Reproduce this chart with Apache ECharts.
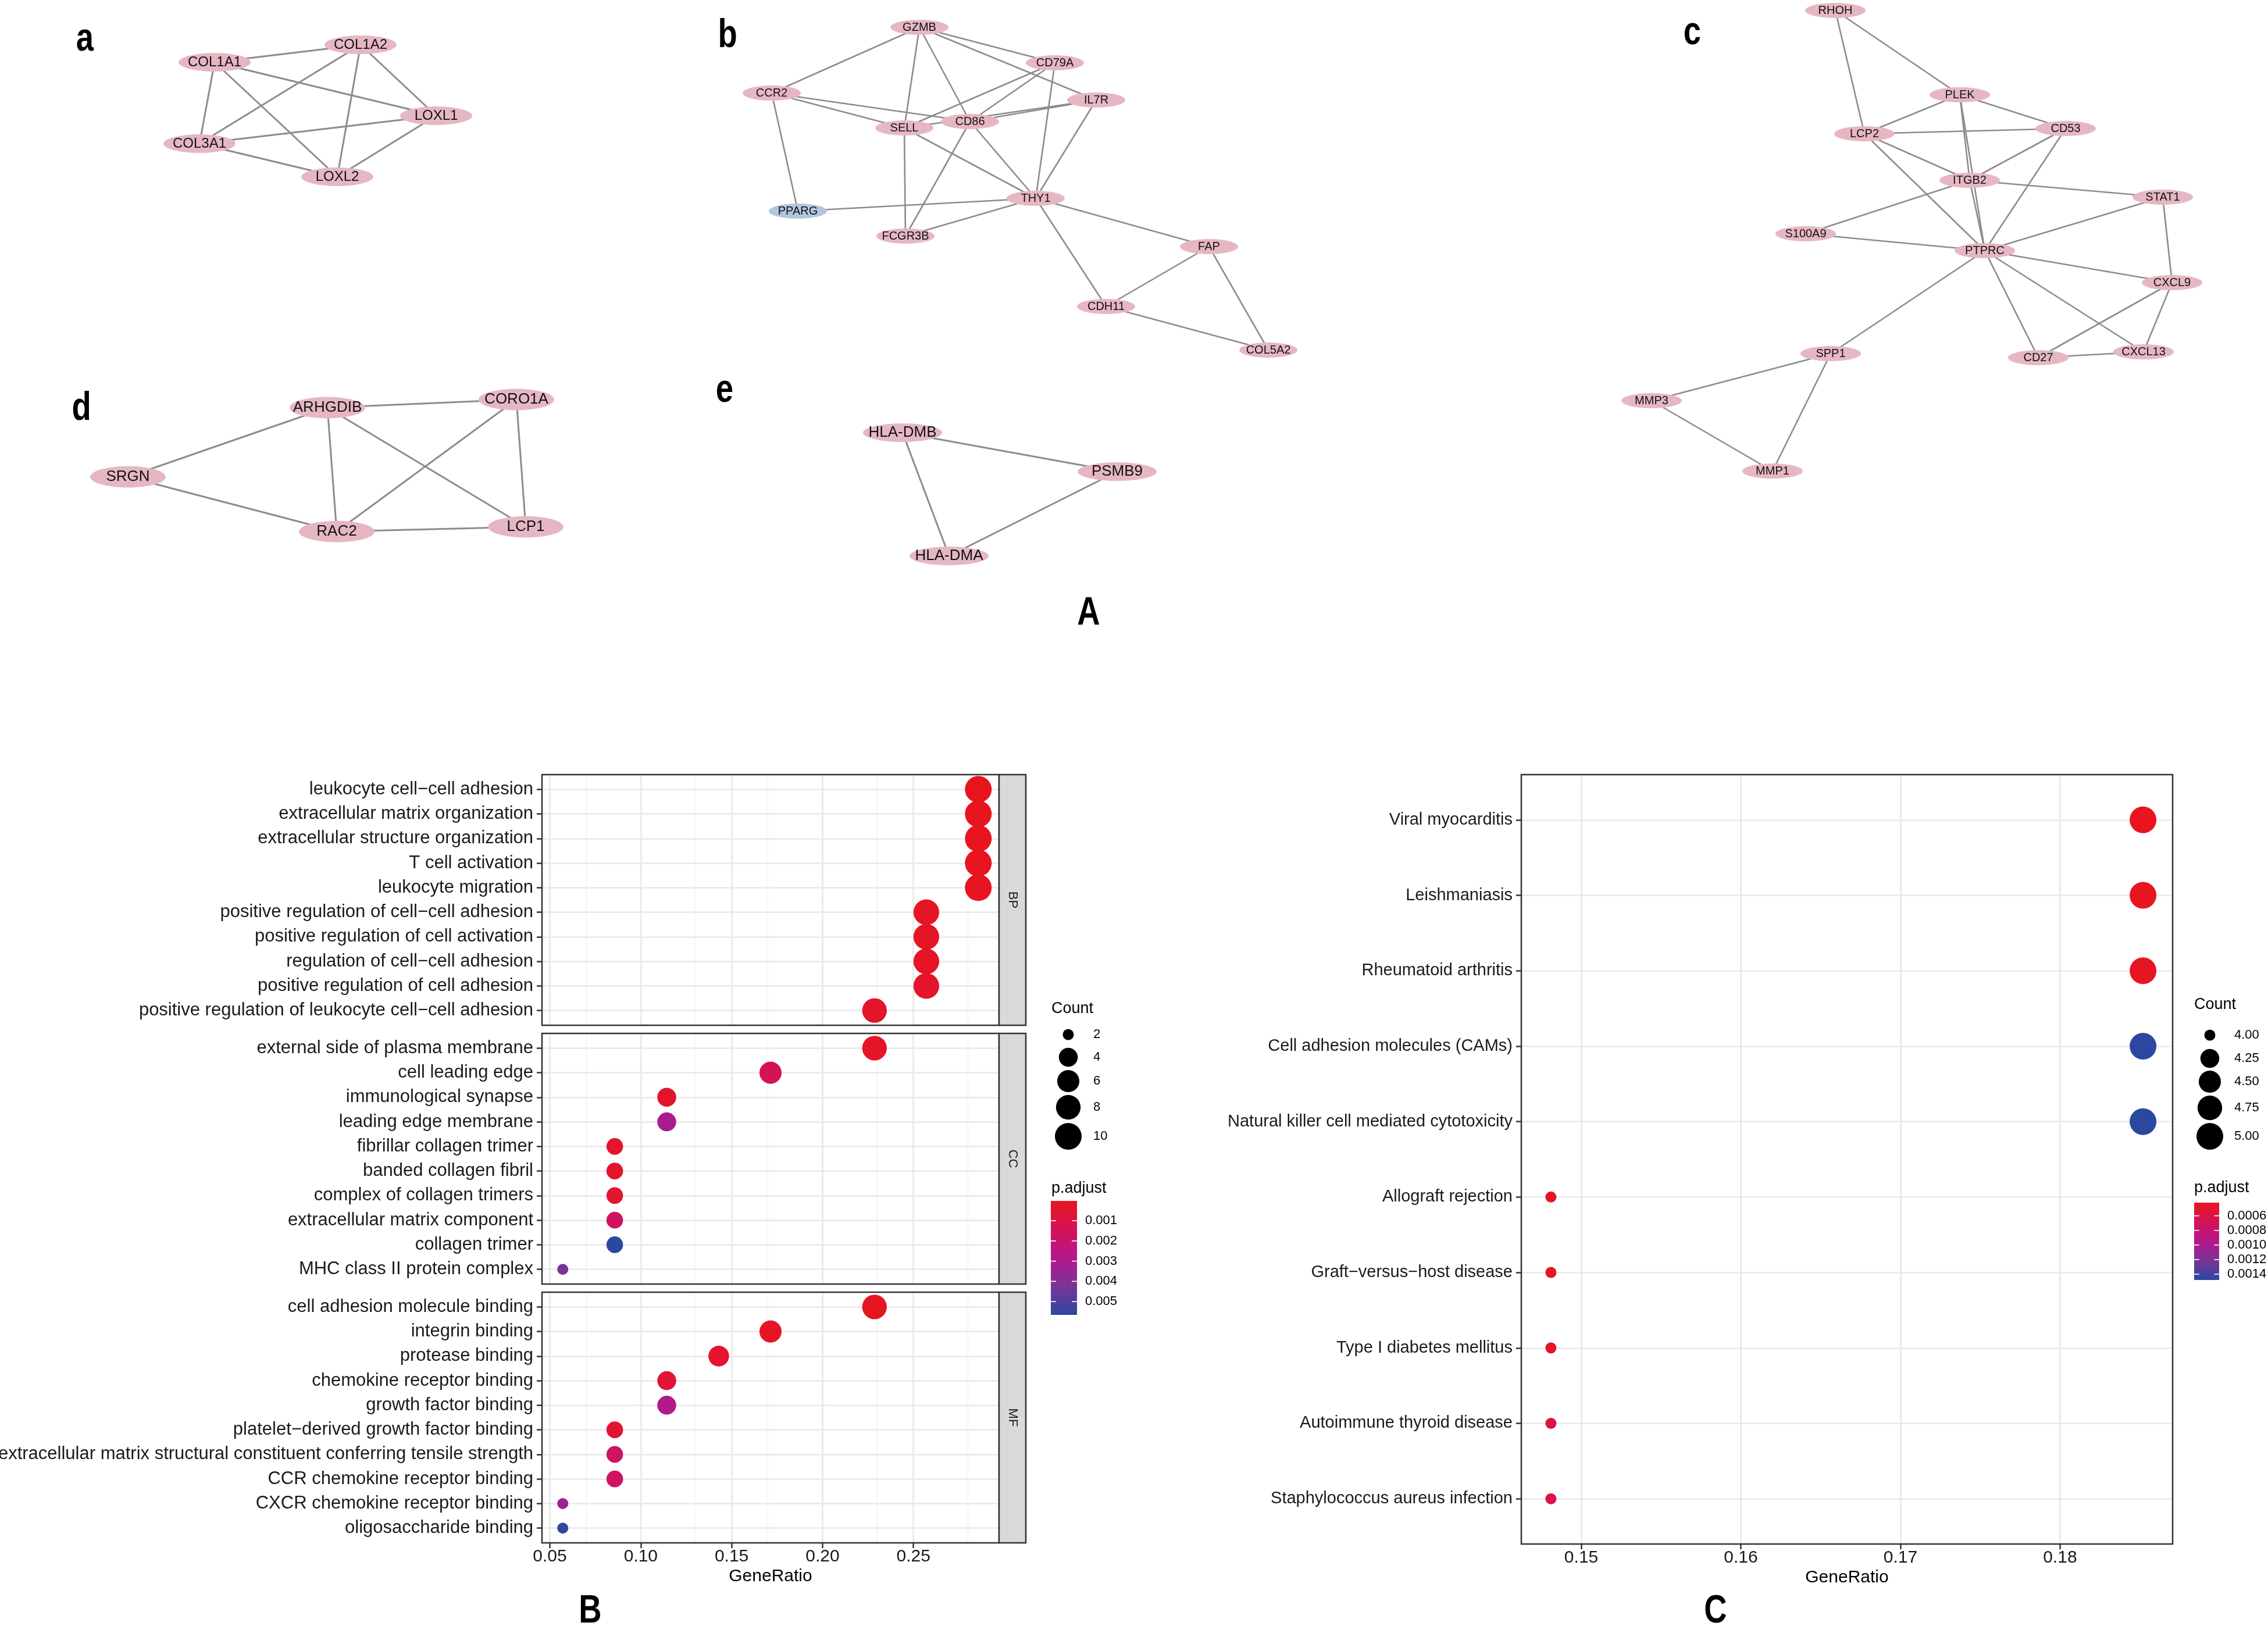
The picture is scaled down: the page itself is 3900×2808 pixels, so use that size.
<!DOCTYPE html>
<html>
<head>
<meta charset="utf-8">
<script src="https://cdn.jsdelivr.net/npm/echarts@6/dist/echarts.min.js"></script>
<style>html,body{margin:0;padding:0;background:#fff}#main{width:3900px;height:2808px}</style>
</head>
<body>
<div id="main"></div>
<script>
// ================= DATA =================
// Panel A: PPI sub-networks (node name, layout x, layout y)
const netA_nodes = [['COL1A1',369,107],['COL1A2',620,77],['LOXL1',750,199],['COL3A1',343,247],['LOXL2',580,304]];
const netA_edges = [['COL1A1','COL1A2'],['COL1A1','COL3A1'],['COL1A1','LOXL2'],['COL1A1','LOXL1'],['COL1A2','COL3A1'],['COL1A2','LOXL2'],['COL1A2','LOXL1'],['COL3A1','LOXL1'],['COL3A1','LOXL2'],['LOXL1','LOXL2']];

const netB_nodes = [['GZMB',1581,47],['CD79A',1814,108],['CCR2',1327,160],['IL7R',1885,172],['SELL',1555,220],['CD86',1668,209],['THY1',1781,341],['PPARG',1372,363],['FCGR3B',1557,406],['FAP',2079,424],['CDH11',1902,527],['COL5A2',2181,602]];
const netB_edges = [['GZMB','CCR2'],['GZMB','SELL'],['GZMB','CD86'],['GZMB','CD79A'],['GZMB','IL7R'],['CD79A','SELL'],['CD79A','CD86'],['CD79A','THY1'],['CCR2','SELL'],['CCR2','CD86'],['CCR2','PPARG'],['IL7R','SELL'],['IL7R','CD86'],['IL7R','THY1'],['SELL','THY1'],['SELL','FCGR3B'],['CD86','THY1'],['CD86','FCGR3B'],['THY1','PPARG'],['THY1','FCGR3B'],['THY1','FAP'],['THY1','CDH11'],['FAP','CDH11'],['FAP','COL5A2'],['CDH11','COL5A2']];

const netC_nodes = [['RHOH',3156,18],['PLEK',3370,163],['LCP2',3206,230],['CD53',3552,221],['ITGB2',3387,310],['STAT1',3719,339],['S100A9',3105,402],['PTPRC',3413,431],['CXCL9',3735,486],['CD27',3505,615],['CXCL13',3686,605],['SPP1',3148,608],['MMP3',2840,689],['MMP1',3048,810]];
const netC_edges = [['RHOH','LCP2'],['RHOH','PLEK'],['PLEK','LCP2'],['PLEK','CD53'],['PLEK','ITGB2'],['PLEK','PTPRC'],['ITGB2','PTPRC'],['LCP2','CD53'],['LCP2','ITGB2'],['LCP2','PTPRC'],['CD53','ITGB2'],['CD53','PTPRC'],['ITGB2','STAT1'],['ITGB2','S100A9'],['S100A9','PTPRC'],['STAT1','PTPRC'],['STAT1','CXCL9'],['PTPRC','CXCL9'],['PTPRC','CD27'],['PTPRC','CXCL13'],['PTPRC','SPP1'],['CXCL9','CD27'],['CXCL9','CXCL13'],['CD27','CXCL13'],['SPP1','MMP3'],['SPP1','MMP1'],['MMP3','MMP1']];

const netD_nodes = [['ARHGDIB',563,701],['CORO1A',888,687],['SRGN',220,820],['RAC2',579,914],['LCP1',904,906]];
const netD_edges = [['ARHGDIB','CORO1A'],['ARHGDIB','SRGN'],['ARHGDIB','RAC2'],['ARHGDIB','LCP1'],['CORO1A','RAC2'],['CORO1A','LCP1'],['SRGN','RAC2'],['RAC2','LCP1']];

const netE_nodes = [['HLA-DMB',1552,744],['PSMB9',1921,811],['HLA-DMA',1632,956]];
const netE_edges = [['HLA-DMB','PSMB9'],['HLA-DMB','HLA-DMA'],['PSMB9','HLA-DMA']];

const downRegulated = ['PPARG'];

// Panel B: GO enrichment (BP / CC / MF)
const bpTerms = ['leukocyte cell\u2212cell adhesion','extracellular matrix organization','extracellular structure organization','T cell activation','leukocyte migration','positive regulation of cell\u2212cell adhesion','positive regulation of cell activation','regulation of cell\u2212cell adhesion','positive regulation of cell adhesion','positive regulation of leukocyte cell\u2212cell adhesion'];
const bpRatio = [0.2857,0.2857,0.2857,0.2857,0.2857,0.2571,0.2571,0.2571,0.2571,0.2286];
const bpCount = [10,10,10,10,10,9,9,9,9,8];
const bpPadj  = [0.00002,0.00003,0.00003,0.00005,0.0001,0.0002,0.0002,0.0002,0.0003,0.0003];

const ccTerms = ['external side of plasma membrane','cell leading edge','immunological synapse','leading edge membrane','fibrillar collagen trimer','banded collagen fibril','complex of collagen trimers','extracellular matrix component','collagen trimer','MHC class II protein complex'];
const ccRatio = [0.2286,0.1714,0.1143,0.1143,0.0857,0.0857,0.0857,0.0857,0.0857,0.0571];
const ccCount = [8,6,4,4,3,3,3,3,3,2];
const ccPadj  = [0.0002,0.0014,0.0004,0.0031,0.0003,0.0003,0.0004,0.0016,0.00566,0.0043];

const mfTerms = ['cell adhesion molecule binding','integrin binding','protease binding','chemokine receptor binding','growth factor binding','platelet\u2212derived growth factor binding','extracellular matrix structural constituent conferring tensile strength','CCR chemokine receptor binding','CXCR chemokine receptor binding','oligosaccharide binding'];
const mfRatio = [0.2286,0.1714,0.1429,0.1143,0.1143,0.0857,0.0857,0.0857,0.0571,0.0571];
const mfCount = [8,6,5,4,4,3,3,3,2,2];
const mfPadj  = [0.0001,0.0002,0.0004,0.0006,0.0029,0.0005,0.0017,0.0017,0.0034,0.0055];

const goXTicks = [0.05,0.10,0.15,0.20,0.25];
const goXMinor = [0.075,0.125,0.175,0.225,0.275];
const goCountBreaks = [2,4,6,8,10];
const goPadjBreaks = [0.001,0.002,0.003,0.004,0.005];

// Panel C: KEGG enrichment
const keggTerms = ['Viral myocarditis','Leishmaniasis','Rheumatoid arthritis','Cell adhesion molecules (CAMs)','Natural killer cell mediated cytotoxicity','Allograft rejection','Graft\u2212versus\u2212host disease','Type I diabetes mellitus','Autoimmune thyroid disease','Staphylococcus aureus infection'];
const keggRatio = [0.1852,0.1852,0.1852,0.1852,0.1852,0.1481,0.1481,0.1481,0.1481,0.1481];
const keggCount = [5,5,5,5,5,4,4,4,4,4];
const keggPadj  = [0.00042,0.00043,0.00044,0.00147,0.00148,0.00043,0.00045,0.00046,0.00058,0.00062];

const keggXTicks = [0.15,0.16,0.17,0.18];
const keggXMinor = [0.155,0.165,0.175,0.185];
const keggCountBreaks = [4.00,4.25,4.50,4.75,5.00];
const keggPadjBreaks = [0.0006,0.0008,0.0010,0.0012,0.0014];

// ================= STYLE / LAYOUT =================
const FONT = '"Liberation Sans", Arial, Helvetica, sans-serif';
const LETTER_FONT = 'bold 68px "Liberation Sans", Arial, sans-serif';
const PALETTE = ['#E8151F','#D41258','#B3188B','#7A3497','#2A48A0'];
const NODE_PINK = '#E6B7C3', NODE_BLUE = '#B2C6DE', EDGE = '#8C8C8C';
const ELLIPSE = 'path://M0,50A100,50,0,1,1,200,50A100,50,0,1,1,0,50Z';
const D_MIN = 19, D_MAX = 46;
const TXT = '#1a1a1a';

function ext(arr){ return [Math.min(...arr), Math.max(...arr)]; }
function expandRange(arr){ const [a,b]=ext(arr); const d=(b-a)*0.05; return [a-d,b+d]; }
function makeSize(lo, hi){ return c => D_MIN + (D_MAX-D_MIN)*Math.sqrt((c-lo)/(hi-lo)); }

const goAllRatio = bpRatio.concat(ccRatio, mfRatio);
const goAllCount = bpCount.concat(ccCount, mfCount);
const goAllPadj = bpPadj.concat(ccPadj, mfPadj);
const goX = expandRange(goAllRatio);
const goC = ext(goAllCount), goP = ext(goAllPadj);
const goSize = makeSize(goC[0], goC[1]);

const keggX = expandRange(keggRatio);
const keggC = ext(keggCount), keggP = ext(keggPadj);
const keggSize = makeSize(keggC[0], keggC[1]);

// grid layout (pixels)
const GO_LEFT = 932, GO_W = 786, GO_H = 431, GO_TOPS = [1332,1777,2222];
const STRIP_W = 46;
const KG_LEFT = 2616, KG_TOP = 1332, KG_W = 1120, KG_H = 1323;

// ================= SERIES =================
function netSeries(nodes, edges, size, font, lw){
  return {
    type:'graph', layout:'none', coordinateSystem:'cartesian2d', xAxisIndex:0, yAxisIndex:0,
    symbol: ELLIPSE, symbolSize: size, silent:true, z:3,
    data: nodes.map(n => ({name:n[0], value:[n[1], n[2]], itemStyle:{color: downRegulated.includes(n[0]) ? NODE_BLUE : NODE_PINK}})),
    links: edges.map(e => ({source:e[0], target:e[1]})),
    lineStyle:{color:EDGE, width:lw, opacity:1, curveness:0},
    label:{show:true, position:'inside', formatter:'{b}', color:'#111', fontSize:font, fontFamily:FONT},
    emphasis:{disabled:true}
  };
}

const rowPos = terms => terms.map((t,i) => i+1);

function gridLines(terms, majors, minors){
  const major = {color:'#E8E8E8', width:2.6, type:'solid'};
  const minor = {color:'#F2F2F2', width:1.4, type:'solid'};
  return {
    silent:true, symbol:['none','none'], z:1, animation:false, label:{show:false},
    lineStyle:{type:'solid'}, emphasis:{disabled:true},
    data: [].concat(
      minors.map(v => ({xAxis:v, lineStyle:minor})),
      majors.map(v => ({xAxis:v, lineStyle:major})),
      rowPos(terms).map(p => ({yAxis:p, lineStyle:major}))
    )
  };
}

function dotSeries(idx, terms, ratio, count, padj, sizeFn, ticks, minors){
  return {
    type:'scatter', xAxisIndex:idx, yAxisIndex:idx, z:3,
    data: terms.map((t,i) => [ratio[i], i+1, count[i], padj[i], t]),
    encode:{x:0, y:1},
    symbol:'circle',
    symbolSize: d => sizeFn(d[2]),
    itemStyle:{opacity:1},
    emphasis:{disabled:true},
    markLine: gridLines(terms, ticks, minors)
  };
}

function xAxisCfg(idx, range, ticks, showLabels){
  return {
    type:'value', gridIndex:idx, min:range[0], max:range[1],
    axisLine:{show:false}, splitLine:{show:false},
    axisTick:{show:showLabels, customValues:ticks, length:9, lineStyle:{color:'#333', width:2.5}},
    axisLabel:{show:showLabels, customValues:ticks, formatter:v=>v.toFixed(2), fontSize:30, color:TXT, fontFamily:FONT, margin:9},
    name: showLabels ? 'GeneRatio' : '', nameLocation:'middle', nameGap:43,
    nameTextStyle:{fontSize:30, color:'#000', fontFamily:FONT}
  };
}
function yAxisCfg(idx, terms, fs){
  const pos = rowPos(terms);
  return {
    type:'value', gridIndex:idx, inverse:true, min:0.4, max:terms.length+0.6,
    axisLine:{show:false}, splitLine:{show:false},
    axisTick:{show:true, customValues:pos, length:9, lineStyle:{color:'#333', width:2.5}},
    axisLabel:{customValues:pos, formatter:v => terms[Math.round(v)-1], fontSize:fs, color:TXT, fontFamily:FONT, margin:15}
  };
}

// ================= GRAPHIC (legends, borders, strips, letters) =================
const graphic = [];
function text(x, y, s, font, align, vAlign, extra){
  graphic.push(Object.assign({type:'text', z:100, silent:true, style:{x:x, y:y, text:s, font:font, fill:'#000', align:align||'left', verticalAlign:vAlign||'middle'}}, extra||{}));
}

// Panel letters (condensed bold)
const LETTERS = [['a',146,68],['b',1251,62],['c',2910,57],['d',140,703],['e',1246,672],['A',1872,1055],['B',1015,2771],['C',2950,2771]];
LETTERS.forEach(l => graphic.push({type:'text', z:100, silent:true, x:l[1], y:l[2], scaleX:0.8, scaleY:1,
  style:{x:0, y:0, text:l[0], font:LETTER_FONT, fill:'#000', align:'center', verticalAlign:'middle'}}));

// GO panel borders and strips
['BP','CC','MF'].forEach((lab, i) => {
  const top = GO_TOPS[i];
  graphic.push({type:'rect', z:90, silent:true, shape:{x:GO_LEFT, y:top, width:GO_W, height:GO_H}, style:{fill:'none', stroke:'#333', lineWidth:2.5}});
  graphic.push({type:'rect', z:90, silent:true, shape:{x:GO_LEFT+GO_W, y:top, width:STRIP_W, height:GO_H}, style:{fill:'#D9D9D9', stroke:'#333', lineWidth:2.5}});
  graphic.push({type:'text', z:100, silent:true, x:GO_LEFT+GO_W+STRIP_W/2, y:top+GO_H/2, rotation:-Math.PI/2,
    style:{x:0, y:0, text:lab, font:'22px ' + FONT, fill:TXT, align:'center', verticalAlign:'middle'}});
});
// KEGG border
graphic.push({type:'rect', z:90, silent:true, shape:{x:KG_LEFT, y:KG_TOP, width:KG_W, height:KG_H}, style:{fill:'none', stroke:'#333', lineWidth:2.5}});

function sizeLegend(x0, titleY, cx, cys, breaks, sizeFn, labelX, fmt){
  text(x0, titleY, 'Count', '27px ' + FONT, 'left', 'middle');
  breaks.forEach((b, i) => {
    graphic.push({type:'circle', z:100, silent:true, shape:{cx:cx, cy:cys[i], r:sizeFn(b)/2}, style:{fill:'#000'}});
    text(labelX, cys[i], fmt(b), '22px ' + FONT, 'left', 'middle');
  });
}
function colorLegend(x0, titleY, bx, by, bw, bh, prange, breaks, labelX, fmt){
  text(x0, titleY, 'p.adjust', '27px ' + FONT, 'left', 'middle');
  const stops = PALETTE.map((c,i) => ({offset:i/(PALETTE.length-1), color:c}));
  graphic.push({type:'rect', z:95, silent:true, shape:{x:bx, y:by, width:bw, height:bh},
    style:{fill:new echarts.graphic.LinearGradient(0,0,0,1,stops)}});
  breaks.forEach(b => {
    const y = by + (b - prange[0])/(prange[1]-prange[0])*bh;
    const tl = bw*0.2;
    graphic.push({type:'line', z:96, silent:true, shape:{x1:bx, y1:y, x2:bx+tl, y2:y}, style:{stroke:'#fff', lineWidth:1.6}});
    graphic.push({type:'line', z:96, silent:true, shape:{x1:bx+bw-tl, y1:y, x2:bx+bw, y2:y}, style:{stroke:'#fff', lineWidth:1.6}});
    text(labelX, y, fmt(b), '22px ' + FONT, 'left', 'middle');
  });
}

sizeLegend(1808, 1735, 1837, [1779,1818,1859,1904,1954], goCountBreaks, goSize, 1880, v => String(v));
colorLegend(1808, 2044, 1807, 2065, 45, 196, goP, goPadjBreaks, 1866, v => v.toFixed(3));
sizeLegend(3773, 1728, 3800, [1780,1820,1860,1905,1954], keggCountBreaks, keggSize, 3842, v => v.toFixed(2));
colorLegend(3773, 2043, 3773, 2068, 43, 133, keggP, keggPadjBreaks, 3830, v => v.toFixed(4));

// ================= OPTION =================
const option = {
  animation:false,
  backgroundColor:'#ffffff',
  textStyle:{fontFamily:FONT},
  grid:[
    {left:0, top:0, width:3900, height:2808, show:false, containLabel:false, outerBoundsMode:'none'},
    {left:GO_LEFT, top:GO_TOPS[0], width:GO_W, height:GO_H, containLabel:false, outerBoundsMode:'none'},
    {left:GO_LEFT, top:GO_TOPS[1], width:GO_W, height:GO_H, containLabel:false, outerBoundsMode:'none'},
    {left:GO_LEFT, top:GO_TOPS[2], width:GO_W, height:GO_H, containLabel:false, outerBoundsMode:'none'},
    {left:KG_LEFT, top:KG_TOP, width:KG_W, height:KG_H, containLabel:false, outerBoundsMode:'none'}
  ],
  xAxis:[
    {type:'value', gridIndex:0, min:0, max:3900, show:false},
    xAxisCfg(1, goX, goXTicks, false),
    xAxisCfg(2, goX, goXTicks, false),
    xAxisCfg(3, goX, goXTicks, true),
    xAxisCfg(4, keggX, keggXTicks, true)
  ],
  yAxis:[
    {type:'value', gridIndex:0, min:0, max:2808, inverse:true, show:false},
    yAxisCfg(1, bpTerms, 31),
    yAxisCfg(2, ccTerms, 31),
    yAxisCfg(3, mfTerms, 31),
    yAxisCfg(4, keggTerms, 29)
  ],
  visualMap:[
    {type:'continuous', show:false, dimension:3, seriesIndex:[5,6,7], min:goP[0], max:goP[1], inRange:{color:PALETTE}},
    {type:'continuous', show:false, dimension:3, seriesIndex:[8], min:keggP[0], max:keggP[1], inRange:{color:PALETTE}}
  ],
  series:[
    netSeries(netA_nodes, netA_edges, [124,32], 24, 3),
    netSeries(netB_nodes, netB_edges, [100,26], 20, 2.6),
    netSeries(netC_nodes, netC_edges, [104,26], 20, 2.6),
    netSeries(netD_nodes, netD_edges, [130,37], 26, 3),
    netSeries(netE_nodes, netE_edges, [136,32], 26, 3),
    dotSeries(1, bpTerms, bpRatio, bpCount, bpPadj, goSize, goXTicks, goXMinor),
    dotSeries(2, ccTerms, ccRatio, ccCount, ccPadj, goSize, goXTicks, goXMinor),
    dotSeries(3, mfTerms, mfRatio, mfCount, mfPadj, goSize, goXTicks, goXMinor),
    dotSeries(4, keggTerms, keggRatio, keggCount, keggPadj, keggSize, keggXTicks, keggXMinor)
  ],
  graphic: graphic
};

const chart = echarts.init(document.getElementById('main'), null, {renderer:'canvas', width:3900, height:2808});
chart.setOption(option);
</script>
</body>
</html>
